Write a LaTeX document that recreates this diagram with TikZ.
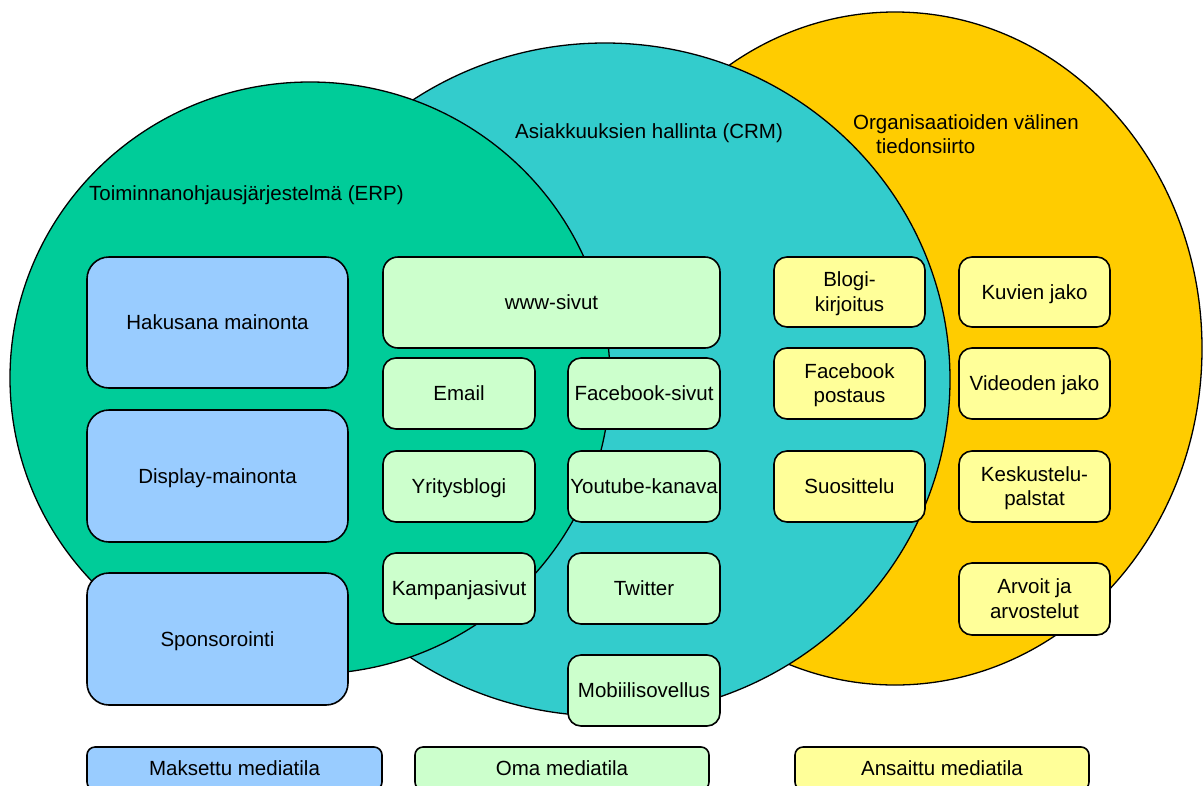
\documentclass[tikz,border=0pt]{standalone}
\usepackage{fontspec}
\setmainfont{Liberation Sans}
\definecolor{erpgreen}{HTML}{00CC99}
\definecolor{crmteal}{HTML}{33CCCC}
\definecolor{orgyellow}{HTML}{FFCC00}
\definecolor{boxblue}{HTML}{99CCFF}
\definecolor{boxgreen}{HTML}{CCFFCC}
\definecolor{boxyellow}{HTML}{FFFF99}
\newcommand\mystrut{\rule[-0.212em]{0pt}{1.117em}}
\newcommand\mybox[7]{%
  \pgfmathsetmacro\mycx{(#3+#5)/2}%
  \pgfmathsetmacro\mycy{(#4+#6)/2}%
  \pgfmathsetmacro\myw{#5-#3}%
  \pgfmathsetmacro\myh{#6-#4}%
  \node[#2, minimum width=\myw pt, minimum height=\myh pt] (#1) at (\mycx,\mycy) {#7};}
\begin{document}
\begin{tikzpicture}[x=1pt,y=-1pt,line join=round,
  every node/.style={font=\fontsize{20.5}{24.5}\selectfont, inner sep=0pt},
  bx/.style={draw=black, line width=1.6pt, align=center},
  paidbox/.style={bx, fill=boxblue, rounded corners=22pt},
  ownbox/.style={bx, fill=boxgreen, rounded corners=13pt},
  earnbox/.style={bx, fill=boxyellow, rounded corners=13pt},
  legendr/.style={rounded corners=8pt},
  area/.style={draw=black, line width=1.3pt},
  title/.style={anchor=base west, inner sep=0pt}
]
\useasboundingbox (0,0) rectangle (1204,785);
\clip (0,0) rectangle (1204,785);
\fill[white] (0,0) rectangle (1204,785);

% areas
\draw[area, fill=orgyellow] (895,348.5) ellipse [x radius=307pt, y radius=336.5pt];
\draw[area, fill=crmteal] (605,379.5) ellipse [x radius=345pt, y radius=336.5pt];
\draw[area, fill=erpgreen] (310,378) ellipse [x radius=300pt, y radius=296pt];

% titles
\node[title] (erp) at (89,200) {Toiminnanohjausjärjestelmä (ERP)};
\node[title] (crm) at (515,138.5) {Asiakkuuksien hallinta (CRM)};
\node[title] (orga) at (853,129.5) {Organisaatioiden välinen};
\node[title] (orgb) at (876,153.5) {tiedonsiirto};

% paid
\mybox{hak}{paidbox}{87}{257}{348}{388}{\mystrut Hakusana mainonta}
\mybox{dis}{paidbox}{87}{410}{348}{542}{\mystrut Display-mainonta}
\mybox{spo}{paidbox}{87}{573}{348}{705}{\mystrut Sponsorointi}

% owned
\mybox{www}{ownbox, rounded corners=15pt}{383}{257}{720}{348}{\mystrut www-sivut}
\mybox{ema}{ownbox}{383}{358}{535}{429}{\mystrut Email}
\mybox{fbs}{ownbox}{568}{358}{720}{429}{\mystrut Facebook-sivut}
\mybox{yri}{ownbox}{383}{451}{535}{522}{\mystrut Yritysblogi}
\mybox{you}{ownbox}{568}{451}{720}{522}{\mystrut Youtube-kanava}
\mybox{kam}{ownbox}{383}{553}{535}{624}{\mystrut Kampanjasivut}
\mybox{twi}{ownbox}{568}{553}{720}{624}{\mystrut Twitter}
\mybox{mob}{ownbox}{568}{655}{720}{726}{\mystrut Mobiilisovellus}

% earned
\mybox{blo}{earnbox}{774}{257}{925}{327}{\mystrut Blogi-\\\mystrut kirjoitus}
\mybox{kuv}{earnbox}{959}{257}{1110}{327}{\mystrut Kuvien jako}
\mybox{fbp}{earnbox}{774}{348}{925}{419}{\mystrut Facebook\\\mystrut postaus}
\mybox{vid}{earnbox}{959}{348}{1110}{419}{\mystrut Videoden jako}
\mybox{suo}{earnbox}{774}{451}{925}{522}{\mystrut Suosittelu}
\mybox{kes}{earnbox}{959}{451}{1110}{522}{\mystrut Keskustelu-\\\mystrut palstat}
\mybox{arv}{earnbox}{959}{563}{1110}{635}{\mystrut Arvoit ja\\\mystrut arvostelut}

% legend
\mybox{lgpaid}{paidbox, legendr}{87}{747}{382}{790}{\mystrut Maksettu mediatila}
\mybox{lgown}{ownbox, legendr}{415}{747}{709}{790}{\mystrut Oma mediatila}
\mybox{lgearn}{earnbox, legendr}{795}{747}{1089}{790}{\mystrut Ansaittu mediatila}
\end{tikzpicture}
\end{document}
